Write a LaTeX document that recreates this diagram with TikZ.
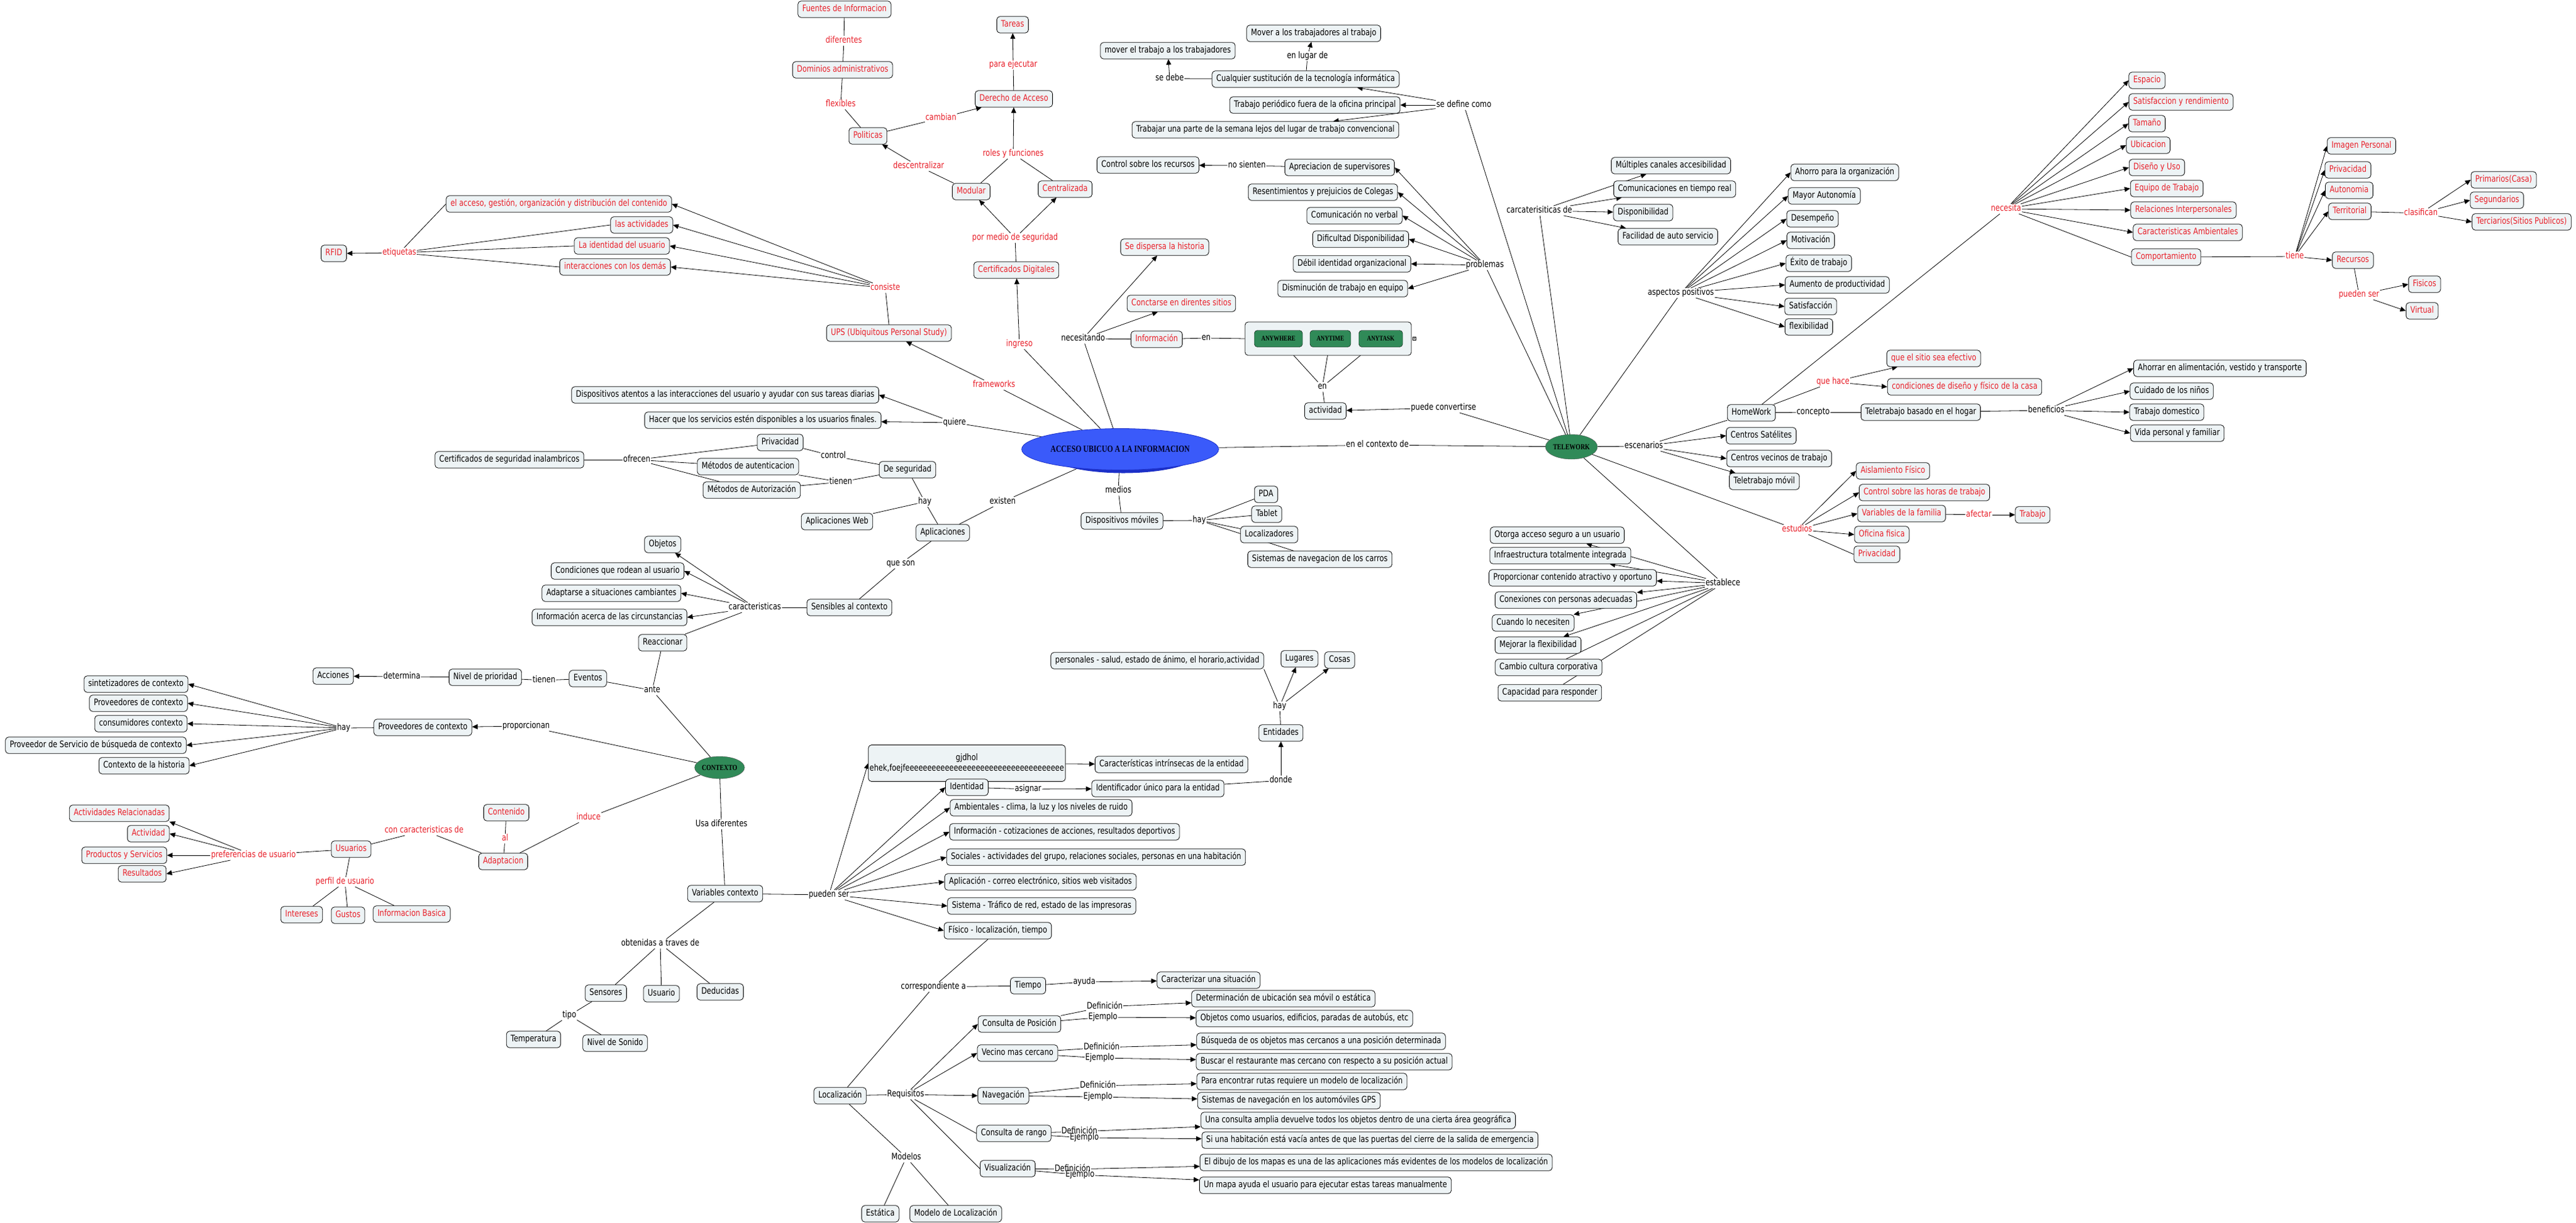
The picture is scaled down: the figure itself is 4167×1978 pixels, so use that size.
\documentclass[tikz,border=0pt]{standalone}
\usepackage{fontspec}
\setmainfont[FakeStretch=0.8]{DejaVu Sans}
\newfontfamily\elfont[FakeStretch=0.8]{Liberation Serif}
\usetikzlibrary{arrows.meta,shapes.geometric}
\pgfdeclarelayer{bg}
\pgfsetlayers{bg,main}
\definecolor{boxfill}{RGB}{237,243,245}
\definecolor{tred}{RGB}{232,32,42}
\definecolor{accblue}{RGB}{58,90,250}
\definecolor{accshadow}{RGB}{28,48,200}
\definecolor{tgreen}{RGB}{48,138,88}
\newcommand{\myl}[2]{\draw[lne] (#1) -- (#2);}
\newcommand{\mya}[2]{\draw[arw] (#1) -- (#2);}
\begin{document}
\begin{tikzpicture}[x=1pt,y=-1pt,font=\fontsize{14.5}{17}\selectfont,
 cb/.style={draw=black,fill=boxfill,rounded corners=5pt,inner xsep=7pt,inner ysep=6.5pt,text height=10.5pt,text depth=3pt,line width=0.8pt},
 cr/.style={cb,text=tred},
 lk/.style={inner sep=1pt,text height=10.5pt,text depth=3pt},
 lr/.style={lk,text=tred},
 lne/.style={draw=black,line width=0.8pt},
 arw/.style={lne,-{Triangle[length=9pt,width=8pt]}},
 anyb/.style={draw=black,fill=tgreen,rounded corners=5pt,minimum height=27pt,inner xsep=3pt,font={\elfont\bfseries\fontsize{11.5}{12}\selectfont}},
 gell/.style={ellipse,draw=black!70,fill=tgreen,inner sep=0pt,font={\elfont\bfseries\fontsize{12.5}{14}\selectfont}}
]
\useasboundingbox (0,0) rectangle (4167,1978);
\begin{pgfonlayer}{bg}\fill[white] (0,0) rectangle (4167,1978);\end{pgfonlayer}

% ---------- RFID / UPS cluster
\node[cr] (n1) at (540,410) {RFID};
\node[cr] (n2) at (904,330) {el acceso, gestión, organización y distribución del contenido};
\node[cr] (n3) at (1038,364) {las actividades};
\node[cr] (n4) at (1006,398) {La identidad del usuario};
\node[cr] (n5) at (995,432) {interacciones con los demás};
\node[lr] (Letiq) at (646,409) {etiquetas};
\node[lr] (Lcons) at (1432,466) {consiste};
\node[cr] (n6) at (1438,539) {UPS (Ubiquitous Personal Study)};
\node[lr] (Lframe) at (1608,623) {frameworks};
\node[cr] (n7) at (1366,15) {Fuentes de Informacion};
\node[lr] (Ldif) at (1365,66) {diferentes};
\node[cr] (n8) at (1363,113) {Dominios administrativos};
\node[lr] (Lflex) at (1360,169) {flexibles};
\node[cr] (n9) at (1404,220) {Politicas};
\node[lr] (Lcamb) at (1522,191) {cambian};
\node[cr] (n10) at (1640,160) {Derecho de Acceso};
\node[lr] (Lpara) at (1639,105) {para ejecutar};
\node[cr] (n11) at (1638,40) {Tareas};
\node[lr] (Lroles) at (1639,249) {roles y funciones};
\node[lr] (Ldesc) at (1486,269) {descentralizar};
\node[cr] (n12) at (1571,310) {Modular};
\node[cr] (n13) at (1723,306) {Centralizada};
\node[lr] (Lpormed) at (1642,385) {por medio de seguridad};
\node[cr] (n14) at (1644,437) {Certificados Digitales};
\node[lr] (Ling) at (1649,557) {ingreso};
\node[lk] (Lnec) at (1752,548) {necesitando};
\node[cr] (n15) at (1871,549) {Información};
\node[lk] (Len1) at (1951,547) {en};
\node[cr] (n16) at (1911,491) {Conctarse en direntes sitios};
\node[cr] (n17) at (1884,400) {Se dispersa la historia};
\node[draw=black,fill=boxfill,rounded corners=5pt,minimum width=269pt,minimum height=54pt,line width=0.8pt] (grp) at (2148.5,548) {};
\node[anyb,minimum width=78pt] (a1) at (2068,548) {ANYWHERE};
\node[anyb,minimum width=66pt] (a2) at (2152,548) {ANYTIME};
\node[anyb,minimum width=71pt] (a3) at (2233.5,548) {ANYTASK};
\node[draw=black,fill=white,inner sep=0.5pt,font=\fontsize{8}{8}\selectfont] (ico) at (2288,548) {«};
\node[lk] (Len2) at (2139,626) {en};
\node[cb] (n18) at (2144,665) {actividad};
\node[lk] (Lpconv) at (2335,660) {puede convertirse};

% ---------- telework definitions / problems
\node[cb] (n19) at (1889,82) {mover el trabajo a los trabajadores};
\node[cb] (n20) at (2125,54) {Mover a los trabajadores al trabajo};
\node[lk] (Lsedebe) at (1892,127) {se debe};
\node[lk] (Lenlug) at (2115,91) {en lugar de};
\node[cb] (n21) at (2112,128) {Cualquier sustitución de la tecnología informática};
\node[cb] (n22) at (2127,170) {Trabajo periódico fuera de la oficina principal};
\node[cb] (n23) at (2047,210) {Trabajar una parte de la semana lejos del lugar de trabajo convencional};
\node[lk] (Lsedef) at (2368,170) {se define como};
\node[cb] (n24) at (1857,267) {Control sobre los recursos};
\node[lk] (Lnosient) at (2017,268) {no sienten};
\node[cb] (n25) at (2167,271) {Apreciacion de supervisores};
\node[cb] (n26) at (2140,311) {Resentimientos y prejuicios de Colegas};
\node[cb] (n27) at (2191,349) {Comunicación no verbal};
\node[cb] (n28) at (2201,387) {Dificultad Disponibilidad};
\node[cb] (n29) at (2187,427) {Débil identidad organizacional};
\node[cb] (n30) at (2172,467) {Disminución de trabajo en equipo};
\node[lk] (Lprob) at (2402,429) {problemas};
\node[lk] (Lcarac) at (2490,341) {carcaterisiticas de};
\node[cb] (n31) at (2703,268) {Múltiples canales accesibilidad};
\node[cb] (n32) at (2709,306) {Comunicaciones en tiempo real};
\node[cb] (n33) at (2658,344) {Disponibilidad};
\node[cb] (n34) at (2698,383) {Facilidad de auto servicio};
\node[lk] (Lasp) at (2719,474) {aspectos positivos};
\node[cb] (n35) at (2984,279) {Ahorro para la organización};
\node[cb] (n36) at (2951,317) {Mayor Autonomía};
\node[cb] (n37) at (2932,354) {Desempeño};
\node[cb] (n38) at (2929,389) {Motivación};
\node[cb] (n39) at (2942,426) {Éxito de trabajo};
\node[cb] (n40) at (2972,461) {Aumento de productividad};
\node[cb] (n41) at (2929,496) {Satisfacción};
\node[cb] (n42) at (2926,529) {flexibilidad};

% ---------- right cluster
\node[lr] (Lneces) at (3245,338) {necesita};
\node[cr] (r1) at (3473,130) {Espacio};
\node[cr] (r2) at (3528,165) {Satisfaccion y rendimiento};
\node[cr] (r3) at (3473,200) {Tamaño};
\node[cr] (r4) at (3475,235) {Ubicacion};
\node[cr] (r5) at (3489,271) {Diseño y Uso};
\node[cr] (r6) at (3505,305) {Equipo de Trabajo};
\node[cr] (r7) at (3532,340) {Relaciones Interpersonales};
\node[cr] (r8) at (3539,376) {Caracteristicas Ambientales};
\node[cr] (r9) at (3504,416) {Comportamiento};
\node[lr] (Ltiene) at (3712,415) {tiene};
\node[cr] (r10) at (3820,236) {Imagen Personal};
\node[cr] (r11) at (3798,275) {Privacidad};
\node[cr] (r12) at (3800,308) {Autonomia};
\node[cr] (r13) at (3801,342) {Territorial};
\node[cr] (r14) at (3806,421) {Recursos};
\node[lr] (Lclas) at (3916,345) {clasifican};
\node[cr] (r15) at (4050,291) {Primarios(Casa)};
\node[cr] (r16) at (4039,324) {Segundarios};
\node[cr] (r17) at (4079,359) {Terciarios(Sitios Publicos)};
\node[lr] (Lpued2) at (3816,477) {pueden ser};
\node[cr] (r18) at (3922,460) {Fisicos};
\node[cr] (r19) at (3918,503) {Virtual};

% ---------- TELEWORK
\node[gell,minimum width=77pt,minimum height=40pt] (tw) at (2542,723) {TELEWORK};
\node[lk] (Lencont) at (2228,720) {en el contexto de};
\node[lk] (Lesc) at (2659,722) {escenarios};
\node[cb] (hw) at (2833,668) {HomeWork};
\node[lk] (Lconcepto) at (2933,667) {concepto};
\node[cb] (tb) at (3107,667) {Teletrabajo basado en el hogar};
\node[lk] (Lbenef) at (3310,664) {beneficios};
\node[cb] (b1) at (3591,596) {Ahorrar en alimentación, vestido y transporte};
\node[cb] (b2) at (3513,633) {Cuidado de los niños};
\node[cb] (b3) at (3505,667) {Trabajo domestico};
\node[cb] (b4) at (3522,701) {Vida personal y familiar};
\node[lr] (Lquehace) at (2965,618) {que hace};
\node[cr] (q1) at (3128,580) {que el sitio sea efectivo};
\node[cr] (q2) at (3178,626) {condiciones de diseño y físico de la casa};
\node[cb] (s1) at (2849,705) {Centros Satélites};
\node[cb] (s2) at (2878,742) {Centros vecinos de trabajo};
\node[cb] (s3) at (2854,779) {Teletrabajo móvil};
\node[lr] (Lest) at (2907,857) {estudios};
\node[cr] (e1) at (3062,762) {Aislamiento Físico};
\node[cr] (e2) at (3113,797) {Control sobre las horas de trabajo};
\node[cr] (e3) at (3076,831) {Variables de la familia};
\node[cr] (e4) at (3044,865) {Oficina fisica};
\node[cr] (e5) at (3036,897) {Privacidad};
\node[lr] (Lafec) at (3201,833) {afectar};
\node[cr] (e6) at (3288,833) {Trabajo};
\node[lk] (Lestab) at (2787,944) {establece};
\node[cb] (t1) at (2519,866) {Otorga acceso seguro a un usuario};
\node[cb] (t2) at (2524,899) {Infraestructura totalmente integrada};
\node[cb] (t3) at (2544,935) {Proporcionar contenido atractivo y oportuno};
\node[cb] (t4) at (2533,971) {Conexiones con personas adecuadas};
\node[cb] (t5) at (2480,1008) {Cuando lo necesiten};
\node[cb] (t6) at (2488,1044) {Mejorar la flexibilidad};
\node[cb] (t7) at (2505,1080) {Cambio cultura corporativa};
\node[cb] (t8) at (2507,1121) {Capacidad para responder};

% ---------- ACCESO
\node[ellipse,fill=accshadow,minimum width=250pt,minimum height=67pt] at (1817,732) {};
\node[ellipse,draw=accshadow,fill=accblue,line width=0.8pt,minimum width=250pt,minimum height=67pt,inner sep=0pt,text=black!85!blue,font={\elfont\bfseries\fontsize{15}{17}\selectfont}] (ac) at (1812,727) {ACCESO UBICUO A LA INFORMACION};
\node[lk] (Lquiere) at (1544,684) {quiere};
\node[cb] (m1) at (1234,680) {Hacer que los servicios estén disponibles a los usuarios finales.};
\node[cb] (m2) at (1173,639) {Dispositivos atentos a las interacciones del usuario y ayudar con sus tareas diarias};
\node[cb] (m3) at (1262,716) {Privacidad};
\node[lk] (Lcontrol) at (1348,738) {control};
\node[cb] (m4) at (1210,755) {Métodos de autenticacion};
\node[cb] (m5) at (1216,793) {Métodos de Autorización};
\node[lk] (Ltienen1) at (1360,780) {tienen};
\node[cb] (m6) at (1468,760) {De seguridad};
\node[lk] (Lhay1) at (1496,812) {hay};
\node[cb] (m7) at (1354,844) {Aplicaciones Web};
\node[cb] (m8) at (1525,862) {Aplicaciones};
\node[lk] (Lexist) at (1622,812) {existen};
\node[lk] (Lmedios) at (1809,794) {medios};
\node[cb] (m9) at (1815,843) {Dispositivos móviles};
\node[lk] (Lhay2) at (1940,842) {hay};
\node[cb] (m10) at (2048,800) {PDA};
\node[cb] (m11) at (2049,832) {Tablet};
\node[cb] (m12) at (2053,865) {Localizadores};
\node[cb] (m13) at (2135,905) {Sistemas de navegacion de los carros};
\node[cb] (m14) at (824,744) {Certificados de seguridad inalambricos};
\node[lk] (Lofrec) at (1030,744) {ofrecen};
\node[lk] (Lqueson) at (1457,912) {que son};
\node[cb] (m15) at (1374,983) {Sensibles al contexto};
\node[lk] (Lcaract) at (1221,983) {caracteristicas};
\node[cb] (m16) at (1072,881) {Objetos};
\node[cb] (m17) at (999,924) {Condiciones que rodean al usuario};
\node[cb] (m18) at (989,960) {Adaptarse a situaciones cambiantes};
\node[cb] (m19) at (986,999) {Información acerca de las circunstancias};
\node[cb] (m20) at (1072,1040) {Reaccionar};
\node[lk] (Lante) at (1055,1117) {ante};
\node[gell,minimum width=76pt,minimum height=36pt] (ctx) at (1164,1242) {CONTEXTO};
\node[cb] (m21) at (951,1098) {Eventos};
\node[lk] (Ltienen2) at (880,1101) {tienen};
\node[cb] (m22) at (785,1096) {Nivel de prioridad};
\node[lk] (Ldet) at (650,1095) {determina};
\node[cb] (m23) at (539,1094) {Acciones};
\node[lk] (Lprop) at (851,1175) {proporcionan};
\node[cb] (m24) at (684,1177) {Proveedores de contexto};
\node[lk] (Lhay3) at (556,1178) {hay};
\node[cb] (p1) at (220,1107) {sintetizadores de contexto};
\node[cb] (p2) at (224,1138) {Proveedores de contexto};
\node[cb] (p3) at (228,1171) {consumidores contexto};
\node[cb] (p4) at (155,1206) {Proveedor de Servicio de búsqueda de contexto};
\node[cb] (p5) at (233,1239) {Contexto de la historia};

% ---------- users / adaptation
\node[lr] (Linduce) at (952,1323) {induce};
\node[cr] (u1) at (814,1394) {Adaptacion};
\node[lr] (Lal) at (817,1357) {al};
\node[cr] (u2) at (819,1315) {Contenido};
\node[lr] (Lconcar) at (686,1344) {con caracteristicas de};
\node[cr] (u3) at (568,1374) {Usuarios};
\node[lr] (Lpref) at (410,1384) {preferencias de usuario};
\node[cr] (u4) at (193,1316) {Actividades Relacionadas};
\node[cr] (u5) at (240,1349) {Actividad};
\node[cr] (u6) at (201,1384) {Productos y Servicios};
\node[cr] (u7) at (230,1414) {Resultados};
\node[lr] (Lperfil) at (558,1427) {perfil de usuario};
\node[cr] (u8) at (488,1480) {Intereses};
\node[cr] (u9) at (563,1481) {Gustos};
\node[cr] (u10) at (666,1479) {Informacion Basica};

% ---------- variables de contexto
\node[lk] (Lusa) at (1167,1334) {Usa diferentes};
\node[cb] (v1) at (1173,1446) {Variables contexto};
\node[lk] (Lobt) at (1068,1527) {obtenidas a traves de};
\node[cb] (v2) at (980,1607) {Sensores};
\node[cb] (v3) at (1070,1608) {Usuario};
\node[cb] (v4) at (1165,1605) {Deducidas};
\node[lk] (Ltipo) at (921,1643) {tipo};
\node[cb] (v5) at (863,1682) {Temperatura};
\node[cb] (v6) at (995,1688) {Nivel de Sonido};
\node[lk] (Lpueden) at (1341,1448) {pueden ser};
\node[draw=black,fill=boxfill,rounded corners=5pt,line width=0.8pt,minimum width=318pt,minimum height=59pt,align=center,inner sep=2pt] (g1) at (1564,1235) {gjdhol\\ehek,foejfeeeeeeeeeeeeeeeeeeeeeeeeeeeeeeeeeeee};
\node[cb] (g2) at (1895,1237) {Características intrínsecas de la entidad};
\node[cb] (g3) at (1564,1274) {Identidad};
\node[lk] (Lasig) at (1663,1277) {asignar};
\node[cb] (g4) at (1873,1276) {Identificador único para la entidad};
\node[lk] (Ldonde) at (2072,1263) {donde};
\node[cb] (g5) at (2072,1186) {Entidades};
\node[lk] (Lhay4) at (2070,1143) {hay};
\node[cb] (g6) at (1872,1069) {personales - salud, estado de ánimo, el horario,actividad};
\node[cb] (g7) at (2102,1066) {Lugares};
\node[cb] (g8) at (2167,1068) {Cosas};
\node[cb] (g9) at (1684,1307) {Ambientales - clima, la luz y los niveles de ruido};
\node[cb] (g10) at (1722,1346) {Información - cotizaciones de acciones, resultados deportivos};
\node[cb] (g11) at (1773,1387) {Sociales - actividades del grupo, relaciones sociales, personas en una habitación};
\node[cb] (g12) at (1683,1427) {Aplicación - correo electrónico, sitios web visitados};
\node[cb] (g13) at (1685,1466) {Sistema - Tráfico de red, estado de las impresoras};
\node[cb] (g14) at (1614,1506) {Físico - localización, tiempo};
\node[lk] (Lcorr) at (1510,1597) {correspondiente a};
\node[cb] (k1) at (1663,1595) {Tiempo};
\node[lk] (Layuda) at (1754,1589) {ayuda};
\node[cb] (k2) at (1955,1586) {Caracterizar una situación};
\node[cb] (k3) at (1359,1773) {Localización};
\node[lk] (Lreq) at (1465,1771) {Requisitos};
\node[lk] (Lmod) at (1466,1873) {Modelos};
\node[cb] (k4) at (1424,1964) {Estática};
\node[cb] (k5) at (1546,1964) {Modelo de Localización};
\node[cb] (c1) at (1649,1657) {Consulta de Posición};
\node[cb] (c2) at (1646,1704) {Vecino mas cercano};
\node[cb] (c3) at (1623,1773) {Navegación};
\node[cb] (c4) at (1640,1834) {Consulta de rango};
\node[cb] (c5) at (1630,1891) {Visualización};
\node[lk] (d1) at (1787,1629) {Definición};
\node[lk] (x1) at (1784,1646) {Ejemplo};
\node[lk] (d2) at (1782,1695) {Definición};
\node[lk] (x2) at (1779,1712) {Ejemplo};
\node[lk] (d3) at (1776,1757) {Definición};
\node[lk] (x3) at (1776,1775) {Ejemplo};
\node[lk] (d4) at (1746,1831) {Definición};
\node[lk] (x4) at (1754,1841) {Ejemplo};
\node[lk] (d5) at (1735,1892) {Definición};
\node[lk] (x5) at (1747,1901) {Ejemplo};
\node[cb] (f1) at (2076,1616) {Determinación de ubicación sea móvil o estática};
\node[cb] (f2) at (2110,1648) {Objetos como usuarios, edificios, paradas de autobús, etc};
\node[cb] (f3) at (2137,1685) {Búsqueda de os objetos mas cercanos a una posición determinada};
\node[cb] (f4) at (2142,1718) {Buscar el restaurante mas cercano con respecto a su posición actual};
\node[cb] (f5) at (2106,1750) {Para encontrar rutas requiere un modelo de localización};
\node[cb] (f6) at (2085,1781) {Sistemas de navegación en los automóviles GPS};
\node[cb] (f7) at (2197,1813) {Una consulta amplia devuelve todos los objetos dentro de una cierta área geográfica};
\node[cb] (f8) at (2216,1845) {Si una habitación está vacía antes de que las puertas del cierre de la salida de emergencia};
\node[cb] (f9) at (2226,1881) {El dibujo de los mapas es una de las aplicaciones más evidentes de los modelos de localización};
\node[cb] (f10) at (2144,1918) {Un mapa ayuda el usuario para ejecutar estas tareas manualmente};

% ================= connectors
\begin{pgfonlayer}{bg}
\mya{Letiq}{n1.east}
\myl{n2.west}{Letiq}\myl{n3.west}{Letiq}\myl{n4.west}{Letiq}\myl{n5.west}{Letiq}
\myl{n6.north}{Lcons}
\mya{Lcons}{n2.east}\mya{Lcons}{n3.east}\mya{Lcons}{n4.east}\mya{Lcons}{n5.east}
\myl{ac}{Lframe}\mya{Lframe}{n6}
\myl{ac}{Ling}\mya{Ling}{n14}
\myl{ac}{Lnec}\mya{Lnec}{n17}\mya{Lnec}{n16}\myl{Lnec}{n15}
\myl{n15}{Len1}\myl{Len1}{grp.west}
\myl{n18}{Len2}\mya{Len2}{a1}\mya{Len2}{a2}\mya{Len2}{a3}
\myl{tw}{Lpconv}\mya{Lpconv}{n18}
\myl{ac}{Lquiere}\mya{Lquiere}{m1}\mya{Lquiere}{m2.east}
\myl{ac}{Lexist}\myl{Lexist}{m8}
\myl{ac}{Lmedios}\myl{Lmedios}{m9}
\myl{ac}{Lencont}\myl{Lencont}{tw}
\myl{n14}{Lpormed}\mya{Lpormed}{n12}\mya{Lpormed}{n13}
\myl{n12}{Ldesc}\mya{Ldesc}{n9}
\myl{n12}{Lroles}\myl{n13}{Lroles}\mya{Lroles}{n10}
\myl{n9}{Lcamb}\mya{Lcamb}{n10}
\myl{n9}{Lflex}\myl{Lflex}{n8}
\myl{n8}{Ldif}\myl{Ldif}{n7}
\myl{n10}{Lpara}\mya{Lpara}{n11}
\myl{m8}{Lhay1}\myl{Lhay1}{m6}\myl{Lhay1}{m7}
\myl{m6}{Lcontrol}\myl{Lcontrol}{m3}
\myl{m6}{Ltienen1}\myl{Ltienen1}{m4}\myl{Ltienen1}{m5}
\myl{m14}{Lofrec}\myl{Lofrec}{m3}\myl{Lofrec}{m4}\myl{Lofrec}{m5}
\myl{m8}{Lqueson}\myl{Lqueson}{m15}
\myl{m15}{Lcaract}\mya{Lcaract}{m16}\mya{Lcaract}{m17.east}\mya{Lcaract}{m18.east}\mya{Lcaract}{m19.east}\myl{Lcaract}{m20}
\myl{m20}{Lante}\myl{m21}{Lante}\myl{Lante}{ctx}
\myl{m21}{Ltienen2}\myl{Ltienen2}{m22}
\myl{m22}{Ldet}\mya{Ldet}{m23}
\myl{ctx}{Lprop}\mya{Lprop}{m24}
\myl{m24}{Lhay3}\mya{Lhay3}{p1.east}\mya{Lhay3}{p2.east}\mya{Lhay3}{p3.east}\mya{Lhay3}{p4.east}\mya{Lhay3}{p5.east}
\myl{ctx}{Linduce}\myl{Linduce}{u1}
\myl{u1}{Lal}\myl{Lal}{u2}
\myl{u1}{Lconcar}\myl{Lconcar}{u3}
\myl{u3}{Lpref}\mya{Lpref}{u4.south east}\mya{Lpref}{u5.east}\mya{Lpref}{u6.east}\mya{Lpref}{u7.east}
\myl{u3}{Lperfil}\myl{Lperfil}{u8}\myl{Lperfil}{u9}\myl{Lperfil}{u10}
\myl{ctx}{Lusa}\myl{Lusa}{v1}
\myl{v1}{Lobt}\myl{Lobt}{v2}\myl{Lobt}{v3}\myl{Lobt}{v4}
\myl{v2}{Ltipo}\myl{Ltipo}{v5}\myl{Ltipo}{v6}
\myl{v1}{Lpueden}
\mya{Lpueden}{g1.west}\mya{Lpueden}{g3.west}\mya{Lpueden}{g9.west}\mya{Lpueden}{g10.west}\mya{Lpueden}{g11.west}\mya{Lpueden}{g12.west}\mya{Lpueden}{g13.west}\mya{Lpueden}{g14.west}
\mya{g1}{g2}
\myl{g3}{Lasig}\mya{Lasig}{g4}
\myl{g4}{Ldonde}\mya{Ldonde}{g5}
\myl{g5}{Lhay4}\mya{Lhay4}{g7}\mya{Lhay4}{g8}\myl{Lhay4}{g6.south east}
\myl{g14}{Lcorr}\myl{Lcorr}{k1}\myl{Lcorr}{k3}
\myl{k1}{Layuda}\mya{Layuda}{k2}
\myl{k3}{Lreq}\mya{Lreq}{c1.west}\mya{Lreq}{c2.west}\mya{Lreq}{c3.west}\myl{Lreq}{c4.west}\myl{Lreq}{c5.west}
\myl{c1}{d1}\mya{d1}{f1}\myl{c1}{x1}\mya{x1}{f2}
\myl{c2}{d2}\mya{d2}{f3}\myl{c2}{x2}\mya{x2}{f4}
\myl{c3}{d3}\mya{d3}{f5}\myl{c3}{x3}\mya{x3}{f6}
\myl{c4}{d4}\mya{d4}{f7}\myl{c4}{x4}\mya{x4}{f8}
\myl{c5}{d5}\mya{d5}{f9}\myl{c5}{x5}\mya{x5}{f10}
\myl{k3}{Lmod}\myl{Lmod}{k4}\myl{Lmod}{k5}
\myl{m9}{Lhay2}\myl{Lhay2}{m10}\myl{Lhay2}{m11}\myl{Lhay2}{m12}\myl{Lhay2}{m13}
% telework
\myl{tw}{Lsedef}\mya{Lsedef}{n21}\mya{Lsedef}{n22}\mya{Lsedef}{n23}
\myl{n21}{Lsedebe}\mya{Lsedebe}{n19}
\myl{n21}{Lenlug}\mya{Lenlug}{n20}
\myl{n25}{Lnosient}\mya{Lnosient}{n24}
\myl{tw}{Lprob}\mya{Lprob}{n25.east}\mya{Lprob}{n26.east}\mya{Lprob}{n27.east}\mya{Lprob}{n28.east}\mya{Lprob}{n29.east}\mya{Lprob}{n30.east}
\myl{tw}{Lcarac}\mya{Lcarac}{n31}\mya{Lcarac}{n32}\mya{Lcarac}{n33}\mya{Lcarac}{n34}
\myl{tw}{Lasp}\mya{Lasp}{n35.west}\mya{Lasp}{n36.west}\mya{Lasp}{n37.west}\mya{Lasp}{n38.west}\mya{Lasp}{n39.west}\mya{Lasp}{n40.west}\mya{Lasp}{n41.west}\mya{Lasp}{n42.west}
\myl{hw}{Lneces}\mya{Lneces}{r1.west}\mya{Lneces}{r2.west}\mya{Lneces}{r3.west}\mya{Lneces}{r4.west}\mya{Lneces}{r5.west}\mya{Lneces}{r6.west}\mya{Lneces}{r7.west}\mya{Lneces}{r8.west}\myl{Lneces}{r9.west}
\myl{r9}{Ltiene}\mya{Ltiene}{r10.west}\mya{Ltiene}{r11.west}\mya{Ltiene}{r12.west}\mya{Ltiene}{r13.west}\mya{Ltiene}{r14.west}
\myl{r13}{Lclas}\mya{Lclas}{r15.west}\mya{Lclas}{r16.west}\mya{Lclas}{r17.west}
\myl{r14}{Lpued2}\mya{Lpued2}{r18.west}\mya{Lpued2}{r19.west}
\myl{tw}{Lesc}\myl{Lesc}{hw}\mya{Lesc}{s1.west}\mya{Lesc}{s2.west}\mya{Lesc}{s3}
\myl{hw}{Lquehace}\mya{Lquehace}{q1}\mya{Lquehace}{q2.west}
\myl{hw}{Lconcepto}\myl{Lconcepto}{tb}
\myl{tb}{Lbenef}\mya{Lbenef}{b1.west}\mya{Lbenef}{b2.west}\mya{Lbenef}{b3.west}\mya{Lbenef}{b4.west}
\myl{tw}{Lest}\mya{Lest}{e1.west}\mya{Lest}{e2.west}\mya{Lest}{e3.west}\mya{Lest}{e4.west}\myl{Lest}{e5.west}
\myl{e3}{Lafec}\mya{Lafec}{e6}
\myl{tw}{Lestab}\mya{Lestab}{t1}\mya{Lestab}{t2}\mya{Lestab}{t3}\mya{Lestab}{t4}\mya{Lestab}{t5}\mya{Lestab}{t6}\myl{Lestab}{t7}\myl{Lestab}{t8}
\end{pgfonlayer}
\end{tikzpicture}
\end{document}
